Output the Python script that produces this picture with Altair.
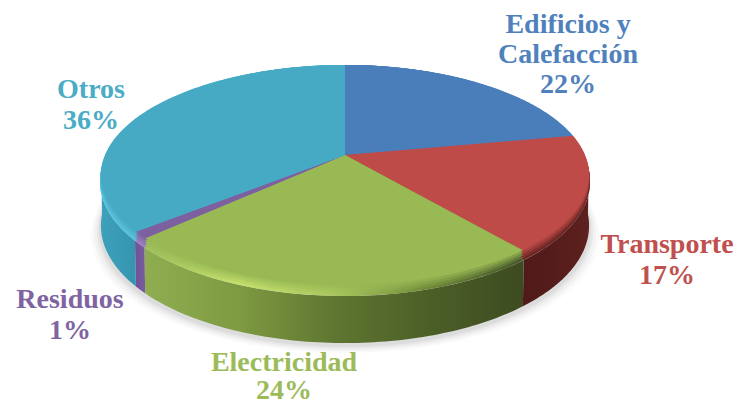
import numpy as np
import pandas as pd
import altair as alt

names = ["Edificios y\nCalefacción", "Transporte", "Electricidad", "Residuos", "Otros"]
values = [22, 17, 24, 1, 36]
top_colors = ["#4A7EBB", "#BE4B48", "#98B954", "#7D60A0", "#46AAC4"]
text_colors = ["#4F81BD", "#C0504D", "#9BBB59", "#8064A2", "#4BACC6"]
rim_stops = [
    ["#4A7EBB", "#4A7EBB"],
    ["#6E2725", "#6A2523"],
    ["#9DBD5A", "#C4E06C", "#A9C75E", "#6F8A38", "#46562A"],
    ["#9A80C0", "#9A80C0"],
    ["#58C2DE", "#50B8D6"],
]
side_stops = [
    None,
    ["#4F1B19", "#551D1B", "#5E211F"],
    ["#8FAE50", "#7E9A42", "#5F7630", "#4C5F27", "#3D4B20"],
    ["#6F5396", "#7A5CA0"],
    ["#3FA0BB", "#3A9BB6", "#3595B0"],
]
label_x = [568, 667, 284, 70, 91]
label_y = [25, 245, 363, 300, 90]
line_heights = [30, 31, 28, 31, 31]

CX, CY, A, B, K = 345.0, 155.0, 106.4, 240.0, -0.1818


def project(theta):
    s, v = np.sin(theta), -np.cos(theta)
    w = 1 + K * v
    return CX + B * s / w, CY + A * v / w, v


def flat(theta):
    x, y, _ = project(theta)
    return x, y


def rim(theta, f=1.0):
    x, y, v = project(theta)
    return CX + (x - CX) * (1 + 0.004 * f), y + 5.5 * f * (v + 1)


def bottom(theta):
    x, y, v = project(theta)
    return x, y + 40 + 9 * (v + 1)


def poly(px, py):
    return pd.DataFrame({"x": px, "y": py, "i": np.arange(len(px))})


def mix(c1, c2, t):
    a = [int(c1[i:i + 2], 16) for i in (1, 3, 5)]
    b = [int(c2[i:i + 2], 16) for i in (1, 3, 5)]
    return "#" + "".join(f"{round(p + (q - p) * t):02X}" for p, q in zip(a, b))


def fillgrad(stops):
    n = len(stops)
    return alt.LinearGradient(
        gradient="linear",
        stops=[alt.GradientStop(color=c, offset=i / (n - 1)) for i, c in enumerate(stops)],
        x1=0, x2=1, y1=0, y2=0,
    )


xs = alt.X("x:Q", scale=alt.Scale(domain=[8, 734], nice=False, zero=False), axis=None)
ys = alt.Y("y:Q", scale=alt.Scale(domain=[404, 8], nice=False, zero=False), axis=None)


def shape(df, fill, opacity=1.0):
    return (
        alt.Chart(df)
        .mark_line(fill=fill, strokeWidth=0, fillOpacity=opacity, interpolate="linear")
        .encode(x=xs, y=ys, order=alt.Order("i:Q"))
    )


layers = []

# soft ground shadow
full = np.linspace(0, 2 * np.pi, 241)
for grow, off, op in [(10, 10, 0.02), (7, 8, 0.03), (4, 6, 0.04), (2, 4, 0.05)]:
    bx, by = bottom(full)
    layers.append(shape(poly(CX + (bx - CX) * (1 + grow / 244), by + off), "#000000", op))

fractions = np.cumsum([0] + values) / sum(values)
angles = fractions * 2 * np.pi
lo_front, hi_front = np.radians(95), np.radians(265)

# side walls
for i in range(len(values)):
    a0, a1 = max(angles[i], lo_front), min(angles[i + 1], hi_front)
    if a1 <= a0 or side_stops[i] is None:
        continue
    t = np.linspace(a0, a1, 80)
    rx, ry = rim(t)
    bx, by = bottom(t)
    layers.append(shape(poly(np.r_[rx, bx[::-1], rx[0]], np.r_[ry, by[::-1], ry[0]]),
                        fillgrad(side_stops[i])))

# bevel, in steps that fade from the rim colour into the top colour
for f, m in [(1.0, 0.0), (0.75, 0.25), (0.5, 0.5), (0.25, 0.75)]:
    for i in range(len(values)):
        t = np.linspace(angles[i], angles[i + 1], 120)
        rx, ry = rim(t, f)
        layers.append(shape(poly(np.r_[CX, rx, CX], np.r_[CY, ry, CY]),
                            fillgrad([mix(c, top_colors[i], m) for c in rim_stops[i]])))

# flat top
for i in range(len(values)):
    t = np.linspace(angles[i], angles[i + 1], 120)
    fx, fy = flat(t)
    layers.append(shape(poly(np.r_[CX, fx, CX], np.r_[CY, fy, CY]), top_colors[i]))

# labels
for i, n in enumerate(names):
    lab = pd.DataFrame({"x": [label_x[i]], "y": [label_y[i]], "t": [f"{n}\n{values[i]}%"]})
    layers.append(
        alt.Chart(lab)
        .mark_text(font="Liberation Serif", fontWeight="bold", fontSize=28, lineBreak="\n",
                   lineHeight=line_heights[i], align="center", baseline="middle", color=text_colors[i])
        .encode(x=xs, y=ys, text="t:N")
    )

chart = (
    alt.layer(*layers)
    .properties(width=726, height=396, padding=0, autosize=alt.AutoSizeParams(type="none"))
    .configure_view(stroke=None)
)
chart.save("out.html", embed_options={"renderer": "svg", "actions": False})
